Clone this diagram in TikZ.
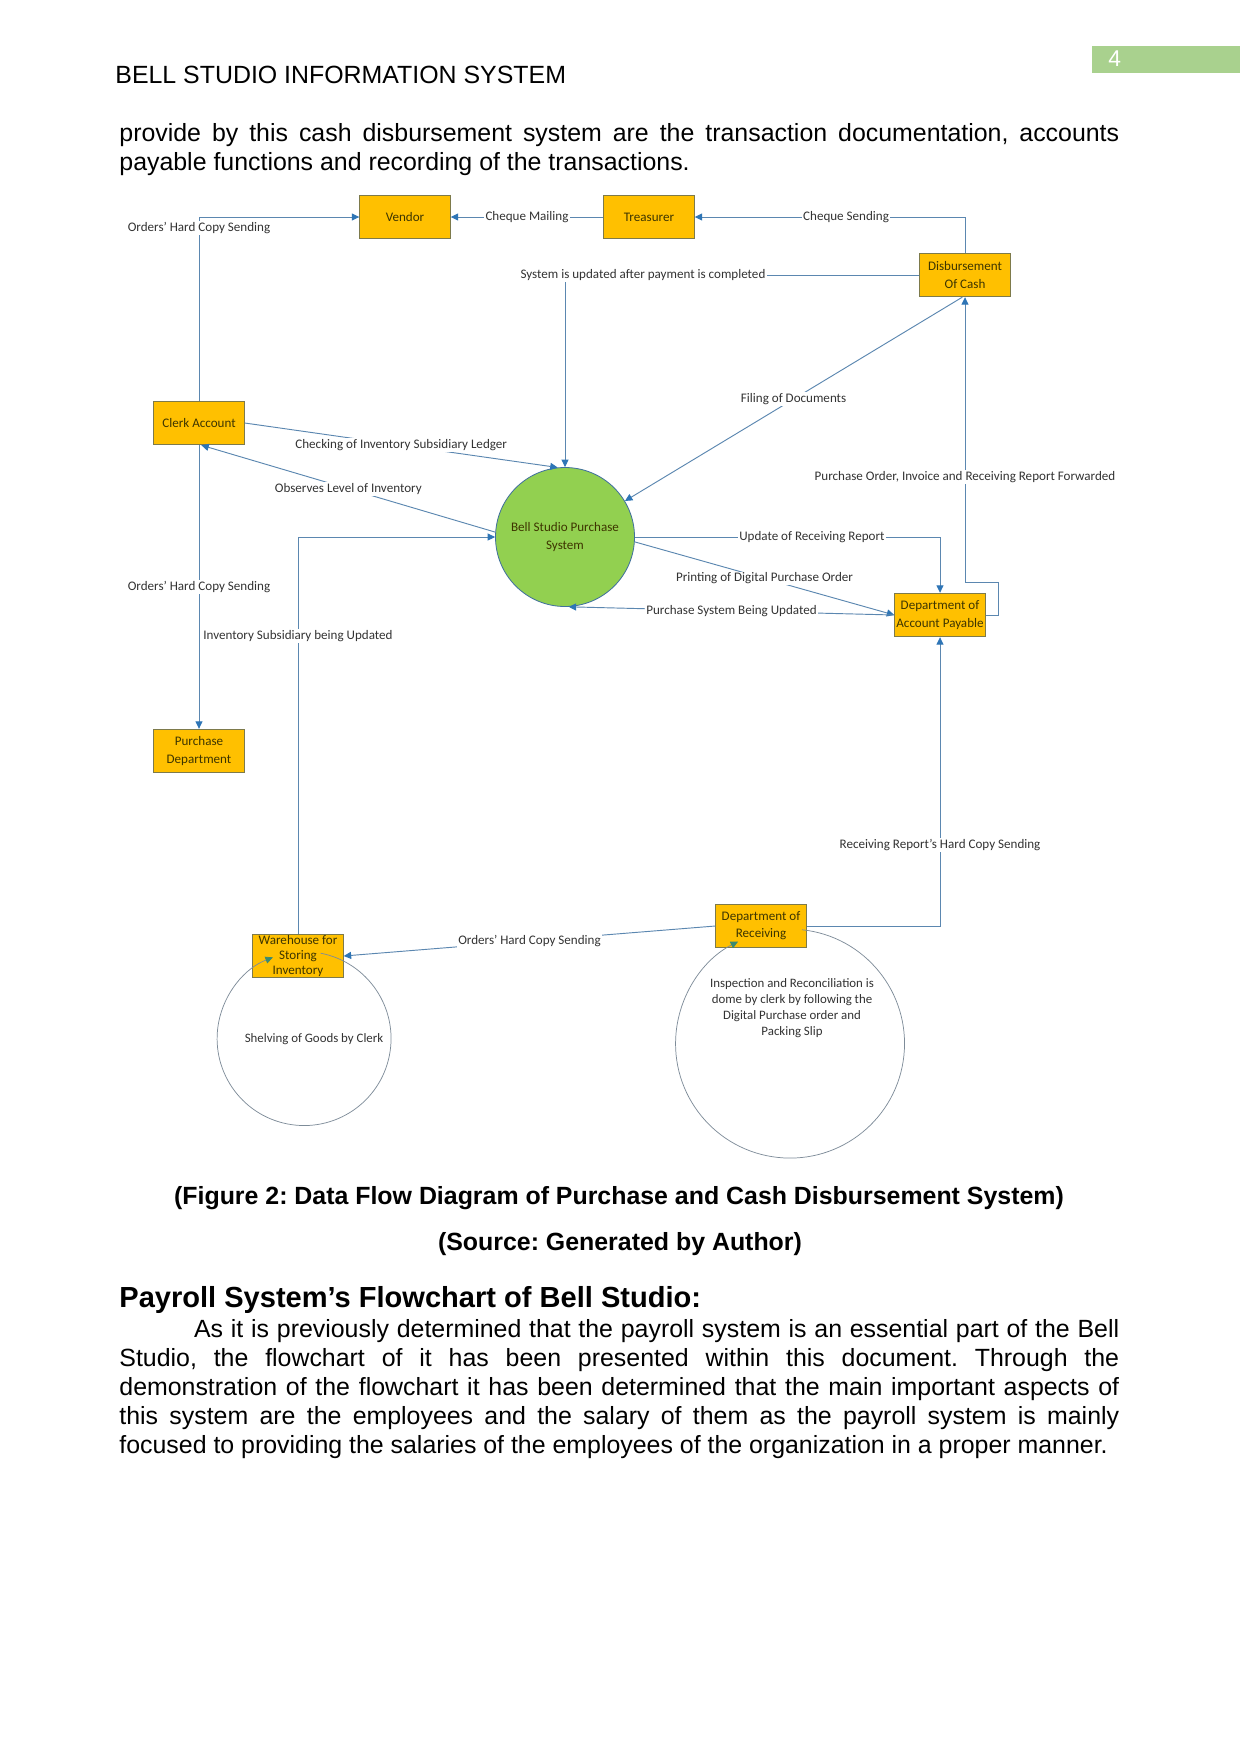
\documentclass[tikz,border=0pt]{standalone}
\usepackage{fontspec}
\setmainfont{Liberation Sans}
\newfontfamily\calibri{Carlito}
\usetikzlibrary{arrows.meta}
\frenchspacing
\definecolor{boxfill}{HTML}{FFC000}
\definecolor{boxline}{HTML}{7D7A4B}
\definecolor{boxtext}{HTML}{3D3500}
\definecolor{procfill}{HTML}{92D050}
\definecolor{procline}{HTML}{41719C}
\definecolor{flowline}{HTML}{5B87B0}
\definecolor{flowtip}{HTML}{2E75B6}
\definecolor{ringline}{HTML}{7E8C99}
\definecolor{ringtip}{HTML}{3A8A70}
\definecolor{labeltext}{HTML}{333333}
\definecolor{pagegreen}{HTML}{A9D18E}
\newcommand{\dfdfont}{\calibri\fontsize{6.3}{8.3}\selectfont}
\newcommand{\bodyfont}{\fontsize{12}{14}\selectfont}

\begin{document}
\begin{tikzpicture}[x=0.016933cm, y=-0.016933cm,
    box/.style={rectangle, draw=boxline, fill=boxfill, minimum width=1.534cm, minimum height=0.738cm, inner sep=0.5pt, align=center, text=boxtext, font=\dfdfont},
    proc/.style={circle, draw=procline, fill=procfill, minimum size=2.354cm, inner sep=0pt, align=center, text=boxtext, font=\calibri\fontsize{6.3}{8.6}\selectfont},
    flow/.style={draw=flowline, line width=0.45pt, -{Triangle[length=3.6pt, width=3.4pt, color=flowtip]}},
    lbl/.style={fill=white, inner sep=0.6pt, text=labeltext, font=\dfdfont},
    ringnode/.style={circle, draw=none, inner sep=0pt},
    loopline/.style={draw=ringline, line width=0.35pt, -{Triangle[length=3.6pt, width=3.4pt, color=ringtip]}},
    ringtext/.style={align=center, text=labeltext, font=\calibri\fontsize{6.2}{7.6}\selectfont},
    body/.style={anchor=base west, inner sep=0pt, text width=481.8pt, align=justify, font=\bodyfont}
]
    \path[fill=white] (0,0) rectangle (1241,1754);

    % Page header
    \node[anchor=base west, inner sep=0pt, font=\bodyfont] (header) at (115,83) {BELL STUDIO INFORMATION SYSTEM};
    \node[fill=pagegreen, anchor=north west, minimum width=2.506cm, minimum height=0.457cm, inner sep=0pt] (pagebox) at (1092,46) {};
    \node[anchor=west, inner sep=0pt, text=white, font=\fontsize{11}{13}\selectfont] (pagenum) at (1108,59) {4};

    % Text above the figure
    \node[body] (intro) at (119,141.5) {provide by this cash disbursement system are the transaction documentation, accounts\linebreak payable functions and recording of the transactions.};

    % Entities
    \node[box] (vendor) at (405,217) {Vendor};
    \node[box] (treasurer) at (649,217) {Treasurer};
    \node[box] (disb) at (965,275) {Disbursement\\Of Cash};
    \node[box] (clerk) at (199,423) {Clerk Account};
    \node[proc] (bell) at (565,537) {Bell Studio Purchase\\System};
    \node[box] (payable) at (940,615) {Department of\\Account Payable};
    \node[box] (purchase) at (199,751) {Purchase\\Department};
    \node[box, font=\calibri\fontsize{6.3}{7.3}\selectfont] (warehouse) at (298,956) {Warehouse for\\Storing\\Inventory};
    \node[box] (receiving) at (761,926) {Department of\\Receiving};

    % Loops round the lower boxes
    \node[ringnode, minimum size=2.947cm] (shelf) at (304,1039) {};
    \node[ringtext] (shelftext) at (314,1039) {Shelving of Goods by Clerk};
    \node[ringnode, minimum size=3.878cm] (inspect) at (790,1044) {};
    \node[ringtext] (inspecttext) at (792,1008) {Inspection and Reconciliation is\\dome by clerk by following the\\Digital Purchase order and\\Packing Slip};

    % Flows — top row
    \draw[flow] (clerk.north) |- node[lbl, pos=0.47] {Orders’ Hard Copy Sending} (vendor.west);
    \draw[flow] (treasurer.west) -- node[lbl] {Cheque Mailing} (vendor.east);
    \draw[flow] (disb.north) |- node[lbl, pos=0.72] {Cheque Sending} (treasurer.east);
    \draw[flow] (disb.west) -| node[lbl, pos=0.39] {System is updated after payment is completed} (bell.north);
    \draw[flow] (disb.-97) -- node[lbl] {Filing of Documents} (bell.31);
    \draw[flow] (payable.east) -- ++(13,0) -- ++(0,-33) -| node[lbl, pos=0.685] {Purchase Order, Invoice and Receiving Report Forwarded} (disb.south);

    % Flows — clerk
    \draw[flow] (clerk.east) -- node[lbl] {Checking of Inventory Subsidiary Ledger} (bell.96);
    \draw[flow] (bell.176) -- node[lbl] {Observes Level of Inventory} (clerk.-84);
    \draw[flow] (clerk.south) -- node[lbl] {Orders’ Hard Copy Sending} (purchase.north);

    % Flows — purchase system and payable
    \draw[flow] (bell.east) -| node[lbl, pos=0.29] {Update of Receiving Report} (payable.north);
    \draw[flow] (bell.-4) -- node[lbl] {Printing of Digital Purchase Order} (payable.west);
    \draw[flow] (payable.west) -- node[lbl] {Purchase System Being Updated} (bell.-87);
    \draw[flow] (warehouse.north) |- node[lbl, pos=0.375] {Inventory Subsidiary being Updated} (bell.west);

    % Flows — receiving
    \draw[flow] (receiving.east) -| node[lbl, pos=0.64] {Receiving Report’s Hard Copy Sending} (payable.south);
    \draw[flow] (receiving.west) -- node[lbl] {Orders’ Hard Copy Sending} (warehouse.east);
    \draw[loopline] (shelf.79) arc[start angle=79, end angle=-249, radius=1.473cm];
    \draw[loopline] (inspect.84) arc[start angle=84, end angle=-243, radius=1.939cm];

    % Caption and following section
    \node[anchor=base, inner sep=0pt, font=\bfseries\bodyfont] (caption) at (619,1204.5) {(Figure 2: Data Flow Diagram of Purchase and Cash Disbursement System)};
    \node[anchor=base, inner sep=0pt, font=\bfseries\bodyfont] (source) at (620,1250.5) {(Source: Generated by Author)};
    \node[anchor=base west, inner sep=0pt, font=\bfseries\fontsize{14}{16}\selectfont] (heading) at (119,1307.5) {Payroll System’s Flowchart of Bell Studio:};
    \node[body] (payroll) at (119,1337.5) {\hspace*{36pt}As it is previously determined that the payroll system is an essential part of the Bell\linebreak Studio, the flowchart of it has been presented within this document. Through the\linebreak demonstration of the flowchart it has been determined that the main important aspects of\linebreak this system are the employees and the salary of them as the payroll system is mainly\linebreak focused to providing the salaries of the employees of the organization in a proper manner.};
\end{tikzpicture}
\end{document}
